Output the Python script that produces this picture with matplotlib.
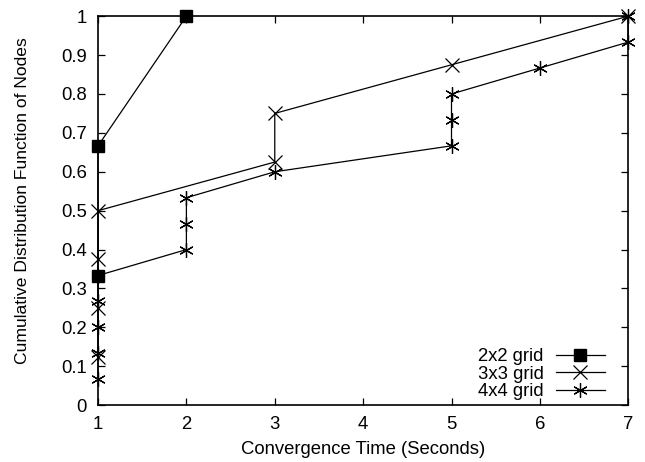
import matplotlib
matplotlib.use("Agg")
import matplotlib.pyplot as plt

plt.rcParams['font.family'] = ['Liberation Sans', 'DejaVu Sans']

x_2x2 = [1, 1, 2]
y_2x2 = [0.3333, 0.6667, 1.0]

x_3x3 = [1, 1, 1, 1, 3, 3, 5, 7]
y_3x3 = [0.125, 0.25, 0.375, 0.5, 0.625, 0.75, 0.875, 1.0]

x_4x4 = [1, 1, 1, 1, 1, 2, 2, 2, 3, 5, 5, 5, 6, 7, 7]
y_4x4 = [0.0667, 0.1333, 0.2, 0.2667, 0.3333, 0.4, 0.4667, 0.5333, 0.6,
         0.6667, 0.7333, 0.8, 0.8667, 0.9333, 1.0]

labels = ['2x2 grid', '3x3 grid', '4x4 grid']
xticks = [1, 2, 3, 4, 5, 6, 7]
yticks = [0, 0.1, 0.2, 0.3, 0.4, 0.5, 0.6, 0.7, 0.8, 0.9, 1]

fs = 13.3

fig = plt.figure(figsize=(6.45, 4.62), dpi=100)
ax = fig.add_axes([0.152, 0.123, 0.822, 0.842])

ax.plot(x_2x2, y_2x2, color='black', lw=0.9, marker='s', markersize=8.5,
        markerfacecolor='black', label=labels[0], clip_on=False, zorder=3)
ax.plot(x_3x3, y_3x3, color='black', lw=0.9, marker='x', markersize=9.5,
        markeredgewidth=0.9, label=labels[1], clip_on=False, zorder=3)
ax.plot(x_4x4, y_4x4, color='black', lw=0.9, marker=(6, 2, 0), markersize=10.5,
        markeredgewidth=0.9, label=labels[2], clip_on=False, zorder=3)

ax.set_xlim(1, 7)
ax.set_ylim(0, 1)
ax.set_xticks(xticks)
ax.set_xticklabels([str(t) for t in xticks])
ax.set_yticks(yticks)
ax.set_yticklabels(['0', '0.1', '0.2', '0.3', '0.4', '0.5', '0.6', '0.7', '0.8', '0.9', '1'])
ax.tick_params(direction='in', top=True, right=True, length=5, width=0.9,
               labelsize=fs, pad=8)
for s in ax.spines.values():
    s.set_linewidth(1.2)

ax.set_xlabel('Convergence Time (Seconds)', fontsize=fs)
ax.set_ylabel('Cumulative Distribution Function of Nodes', fontsize=12.6)
ax.yaxis.set_label_coords(-0.128, 0.527)
ax.xaxis.set_label_coords(0.5, -0.0925)

ax.legend(loc='lower right', frameon=False, markerfirst=False, fontsize=fs,
          handlelength=2.7, handletextpad=0.65, labelspacing=0.02,
          borderaxespad=0, borderpad=0, bbox_to_anchor=(0.957, 0.013))

fig.savefig('out.png', dpi=100)
